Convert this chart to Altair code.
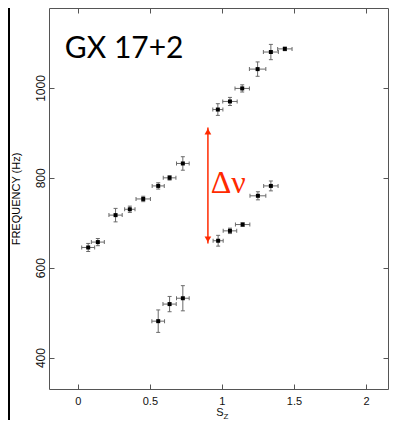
import altair as alt
import pandas as pd

# Upper kHz QPO, low-S_z branch
sz_a = [0.072, 0.139, 0.262, 0.361, 0.454, 0.558, 0.637, 0.729]
hz_a = [645, 657, 717, 730, 753, 782, 800, 832]
sz_err_a = [0.045, 0.045, 0.046, 0.036, 0.05, 0.042, 0.044, 0.044]
hz_err_a = [9, 8, 15, 7, 6, 7, 5, 15]

# Lower kHz QPO, low-S_z branch
sz_b = [0.558, 0.637, 0.729]
hz_b = [481, 519, 532]
sz_err_b = [0.044, 0.046, 0.044]
hz_err_b = [25, 17, 28]

# Upper kHz QPO, high-S_z branch
sz_c = [0.972, 1.056, 1.141, 1.248, 1.340, 1.437]
hz_c = [952, 970, 999, 1042, 1080, 1087]
sz_err_c = [0.035, 0.05, 0.05, 0.057, 0.052, 0.05]
hz_err_c = [13, 9, 8, 16, 17, 4]

# Lower kHz QPO, high-S_z branch
sz_d = [0.974, 1.056, 1.144, 1.25, 1.340]
hz_d = [660, 682, 696, 760, 782]
sz_err_d = [0.035, 0.047, 0.05, 0.055, 0.05]
hz_err_d = [12, 6, 4, 9, 11]

# Delta-nu arrow (S_z position, top and bottom frequency)
arrow_sz = [0.903]
arrow_top = [912]
arrow_bottom = [654]

x_ticks = [0, 0.5, 1, 1.5, 2]
y_ticks = [400, 600, 800, 1000]

frames = []
for sz, hz, se, he in [(sz_a, hz_a, sz_err_a, hz_err_a), (sz_b, hz_b, sz_err_b, hz_err_b),
                       (sz_c, hz_c, sz_err_c, hz_err_c), (sz_d, hz_d, sz_err_d, hz_err_d)]:
    frames.append(pd.DataFrame({"sz": sz, "hz": hz, "se": se, "he": he}))
df = pd.concat(frames, ignore_index=True)
df["s_lo"] = df.sz - df.se
df["s_hi"] = df.sz + df.se
df["h_lo"] = df.hz - df.he
df["h_hi"] = df.hz + df.he

vcaps = pd.concat([pd.DataFrame({"sz": df.sz, "hz": df.h_lo}),
                   pd.DataFrame({"sz": df.sz, "hz": df.h_hi})], ignore_index=True)
hcaps = pd.concat([pd.DataFrame({"sz": df.s_lo, "hz": df.hz}),
                   pd.DataFrame({"sz": df.s_hi, "hz": df.hz})], ignore_index=True)

arrow = pd.DataFrame({"sz": arrow_sz, "top": arrow_top, "bottom": arrow_bottom})

xs = alt.Scale(domain=[-0.2, 2.153], nice=False, zero=False)
ys = alt.Scale(domain=[330, 1178], nice=False, zero=False)

ERR = "#6a6a6a"
RED = "#ff2a00"
AX = "#555555"

x_axis = alt.Axis(values=x_ticks, format="~g", offset=-5, tickSize=5, domain=False, grid=False,
                  tickColor=AX, labelFont="Liberation Sans", labelFontSize=11, labelColor="#111",
                  labelPadding=6, title=None)
y_axis = alt.Axis(values=y_ticks, format="d", offset=-5, tickSize=5, domain=False, grid=False,
                  tickColor=AX, labelFont="Liberation Sans", labelFontSize=12, labelColor="#111",
                  labelAngle=270, labelAlign="center", labelBaseline="alphabetic", labelPadding=5,
                  title="FREQUENCY (Hz)", titleFont="Liberation Sans", titleFontSize=11,
                  titleFontWeight="normal", titleColor="black", titlePadding=13)

hbar = alt.Chart(df).mark_rule(color=ERR, strokeWidth=1).encode(
    x=alt.X("s_lo:Q", scale=xs, axis=x_axis), x2="s_hi:Q",
    y=alt.Y("hz:Q", scale=ys, axis=y_axis))

frame_axes = alt.Chart(df).mark_point(opacity=0).encode(
    x=alt.X("sz:Q", scale=xs, axis=alt.Axis(orient="top", values=x_ticks, offset=-5, tickSize=5,
                                             domain=False, grid=False, labels=False, tickColor=AX, title=None)),
    y=alt.Y("hz:Q", scale=ys, axis=alt.Axis(orient="right", values=y_ticks, offset=-5, tickSize=5,
                                             domain=False, grid=False, labels=False, tickColor=AX, title=None)))

vbar = alt.Chart(df).mark_rule(color=ERR, strokeWidth=1).encode(
    x=alt.X("sz:Q", scale=xs, axis=None),
    y=alt.Y("h_lo:Q", scale=ys, axis=None), y2="h_hi:Q")

vcap = alt.Chart(vcaps).mark_tick(orient="horizontal", size=4, thickness=1, color=ERR, opacity=1).encode(
    x=alt.X("sz:Q", scale=xs, axis=None), y=alt.Y("hz:Q", scale=ys, axis=None))
hcap = alt.Chart(hcaps).mark_tick(orient="vertical", size=4, thickness=1, color=ERR, opacity=1).encode(
    x=alt.X("sz:Q", scale=xs, axis=None), y=alt.Y("hz:Q", scale=ys, axis=None))

pts = alt.Chart(df).mark_square(size=16, color="black", opacity=1).encode(
    x=alt.X("sz:Q", scale=xs, axis=None), y=alt.Y("hz:Q", scale=ys, axis=None))

arrow_line = alt.Chart(arrow).mark_rule(color=RED, strokeWidth=1.5).encode(
    x=alt.X("sz:Q", scale=xs, axis=None),
    y=alt.Y("top:Q", scale=ys, axis=None), y2=alt.Y2("bottom:Q"))
head_top = alt.Chart(arrow).mark_point(shape="triangle-up", filled=True, size=45, color=RED,
                                       opacity=1, yOffset=4).encode(
    x=alt.X("sz:Q", scale=xs, axis=None), y=alt.Y("top:Q", scale=ys, axis=None))
head_bot = alt.Chart(arrow).mark_point(shape="triangle-down", filled=True, size=45, color=RED,
                                       opacity=1, yOffset=-4).encode(
    x=alt.X("sz:Q", scale=xs, axis=None), y=alt.Y("bottom:Q", scale=ys, axis=None))

labels = pd.DataFrame({"sz": [-0.09], "hz": [1066], "t": ["GX 17+2"]})
gx = alt.Chart(labels).mark_text(font="Lato", fontSize=30, align="left", baseline="alphabetic",
                                 color="black").encode(
    x=alt.X("sz:Q", scale=xs, axis=None), y=alt.Y("hz:Q", scale=ys, axis=None), text="t:N")

dnu = pd.DataFrame({"sz": [0.922], "hz": [766], "t": ["Δν"]})
dnu_text = alt.Chart(dnu).mark_text(font="Liberation Serif", fontSize=32, align="left",
                                    baseline="alphabetic", color=RED).encode(
    x=alt.X("sz:Q", scale=xs, axis=None), y=alt.Y("hz:Q", scale=ys, axis=None), text="t:N")

one = pd.DataFrame({"a": [0]})
s_title = alt.Chart(one).mark_text(font="Liberation Sans", fontSize=11, text="S", color="#111",
                                   align="center", baseline="middle").encode(
    x=alt.value(171), y=alt.value(405))
z_title = alt.Chart(one).mark_text(font="Liberation Sans", fontSize=8, text="Z", color="#111",
                                   align="center", baseline="middle").encode(
    x=alt.value(177), y=alt.value(409))
left_line = alt.Chart(one).mark_rule(color="black", strokeWidth=2).encode(
    x=alt.value(-40), y=alt.value(0), y2=alt.value(440))

chart = alt.layer(
    hbar, frame_axes, vbar, vcap, hcap, pts, arrow_line, head_top, head_bot, gx, dnu_text,
    s_title, z_title, left_line
).resolve_axis(x="independent", y="independent").properties(
    width=339, height=381,
    autosize=alt.AutoSizeParams(type="none"),
    padding={"left": 41, "top": 0, "right": 1, "bottom": 31},
    background="white",
).configure_view(stroke=AX, strokeWidth=1)

chart.save("out.html", embed_options={"renderer": "svg", "actions": False})
